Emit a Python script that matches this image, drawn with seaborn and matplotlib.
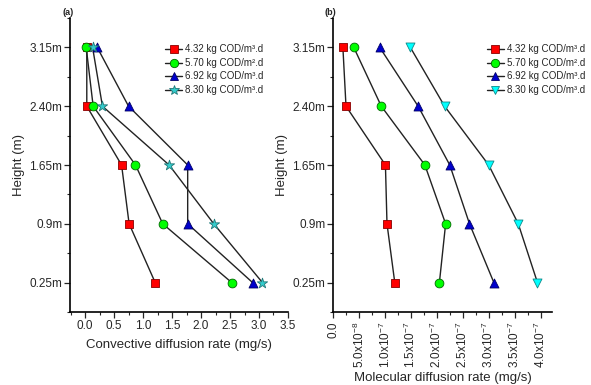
import matplotlib
matplotlib.use("Agg")
import matplotlib.pyplot as plt
from matplotlib.lines import Line2D
from matplotlib.ticker import MultipleLocator, FuncFormatter
import seaborn as sns
import numpy as np
import pandas as pd

# heights, bottom to top
heights = ["0.25m", "0.9m", "1.65m", "2.40m", "3.15m"]
loads = ["4.32 kg COD/m³.d", "5.70 kg COD/m².d", "6.92 kg COD/m³.d", "8.30 kg COD/m³.d"]

# (a) convective diffusion rate (mg/s)
conv_432 = [1.21, 0.76, 0.63, 0.03, 0.03]
conv_570 = [2.53, 1.34, 0.87, 0.14, 0.02]
conv_692 = [2.89, 1.77, 1.77, 0.75, 0.21]
conv_830 = [3.06, 2.22, 1.45, 0.30, 0.13]

# (b) molecular diffusion rate (mg/s)
mol_432 = [1.19e-7, 1.04e-7, 1.01e-7, 0.25e-7, 0.19e-7]
mol_570 = [2.05e-7, 2.17e-7, 1.77e-7, 0.93e-7, 0.40e-7]
mol_692 = [3.10e-7, 2.63e-7, 2.25e-7, 1.64e-7, 0.90e-7]
mol_830 = [3.94e-7, 3.57e-7, 3.00e-7, 2.15e-7, 1.49e-7]

sns.set_theme(style="ticks")
plt.rcParams['font.family'] = ['Liberation Sans', 'DejaVu Sans']
plt.rcParams['mathtext.fontset'] = 'custom'
plt.rcParams['mathtext.rm'] = 'Liberation Sans'
plt.rcParams['mathtext.it'] = 'Liberation Sans'

face_a = ['#ff0000', '#00ff00', '#0000cc', '#33cccc']
edge_a = ['#880000', '#006600', '#000066', '#227777']
marks_a = ['s', 'o', '^', '*']
size_a = [30, 40, 42, 60]
face_b = ['#ff0000', '#00ff00', '#0000cc', '#00ffff']
edge_b = ['#880000', '#006600', '#000066', '#118888']
marks_b = ['s', 'o', '^', 'v']
size_b = [30, 40, 42, 42]

ypos = np.arange(len(heights))

fig = plt.figure(figsize=(5.91, 3.85), dpi=100)
ax1 = fig.add_axes([0.1184, 0.1896, 0.3689, 0.7636])
ax2 = fig.add_axes([0.5635, 0.1896, 0.3705, 0.7636])


def draw(ax, series, faces, edges, marks, sizes):
    handles = []
    for vals, fc, ec, mk, sz, lab in zip(series, faces, edges, marks, sizes, loads):
        df = pd.DataFrame({'x': vals, 'y': ypos})
        sns.lineplot(data=df, x='x', y='y', sort=False, estimator=None, color='#222222',
                     linewidth=1.0, ax=ax, zorder=2)
        sns.scatterplot(data=df, x='x', y='y', marker=mk, s=sz, color=fc, edgecolor=ec,
                        linewidth=0.6, ax=ax, zorder=3)
        handles.append(Line2D([], [], color='#222222', lw=1.0, marker=mk, markersize=np.sqrt(sz) * 0.95,
                              markerfacecolor=fc, markeredgecolor=ec, markeredgewidth=0.6, label=lab))
    ax.set_ylim(-0.5, 4.5)
    ax.set_yticks(ypos)
    ax.set_yticklabels(heights)
    ax.yaxis.set_minor_locator(MultipleLocator(0.5))
    ax.set_ylabel("Height (m)", fontsize=9.5, labelpad=3)
    sns.despine(ax=ax)
    ax.tick_params(which='major', direction='out', length=4, width=0.9, labelsize=8.5, pad=1.5)
    ax.tick_params(which='minor', direction='out', length=2, width=0.8)
    for s in ['left', 'bottom']:
        ax.spines[s].set_linewidth(1.2)
        ax.spines[s].set_color('black')
    return handles


leg_kw = dict(loc='upper left', frameon=False, fontsize=7, handlelength=1.75,
              handletextpad=0.3, labelspacing=0.36, borderpad=0, borderaxespad=0)

h1 = draw(ax1, [conv_432, conv_570, conv_692, conv_830], face_a, edge_a, marks_a, size_a)
ax1.set_xlim(-0.26, 3.5)
ax1.set_xticks(np.arange(0, 3.51, 0.5))
ax1.xaxis.set_minor_locator(MultipleLocator(0.25))
ax1.xaxis.set_major_formatter(FuncFormatter(lambda v, p: f"{v:.1f}"))
ax1.set_xlabel("Convective diffusion rate (mg/s)", fontsize=9.5, labelpad=5)
ax1.legend(handles=h1, bbox_to_anchor=(0.436, 0.910), **leg_kw)
ax1.text(-0.01, 1.005, "(a)", transform=ax1.transAxes, ha='center', va='bottom',
         fontsize=6.5, fontweight='bold')

h2 = draw(ax2, [mol_432, mol_570, mol_692, mol_830], face_b, edge_b, marks_b, size_b)
ax2.set_xlim(0, 4.22e-7)
ax2.set_xticks(np.arange(0, 4.01e-7, 0.5e-7))
ax2.xaxis.set_minor_locator(MultipleLocator(0.25e-7))


def sci(v, p):
    if abs(v) < 1e-12:
        return "0.0"
    e = int(np.floor(np.log10(v) + 1e-9))
    m = v / 10 ** e
    return f"{m:.1f}x10$^{{{e}}}$"


ax2.xaxis.set_major_formatter(FuncFormatter(sci))
plt.setp(ax2.get_xticklabels(), rotation=90)
ax2.tick_params(axis='x', labelsize=8.5, pad=3)
ax2.set_xlabel("Molecular diffusion rate (mg/s)", fontsize=9.5, labelpad=2.5)
ax2.legend(handles=h2, bbox_to_anchor=(0.703, 0.910), **leg_kw)
ax2.text(-0.01, 1.005, "(b)", transform=ax2.transAxes, ha='center', va='bottom',
         fontsize=6.5, fontweight='bold')

fig.savefig("out.png", dpi=100, facecolor='white')
